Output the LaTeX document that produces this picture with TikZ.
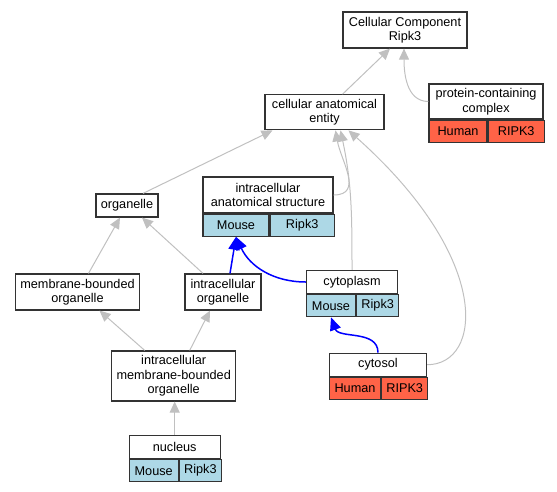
\documentclass[tikz,border=0pt]{standalone}
\usepackage{fontspec}
\setmainfont{Liberation Sans}
\usetikzlibrary{arrows.meta}
\definecolor{lightblue}{RGB}{173,216,230}
\definecolor{tomato}{RGB}{255,99,71}
\definecolor{silver}{RGB}{192,192,192}
\begin{document}
\begin{tikzpicture}[x=1pt, y=1pt,
        term/.style={draw=black!80, line width=1.2pt, fill=white, align=center, inner sep=0pt, font=\fontsize{12.7}{14.5}\selectfont},
        mouse/.style={term, fill=lightblue, minimum height=22pt, anchor=north west},
        human/.style={term, fill=tomato, minimum height=22pt, anchor=north west},
        isa/.style={draw=silver, line width=1pt, -{Triangle[length=11pt, width=10pt]}},
        annot/.style={draw=blue, line width=1.5pt, -{Triangle[length=13pt, width=11pt]}}]
        \useasboundingbox (0, 0) rectangle (557, -491);
        \node[term, minimum width=124pt, minimum height=36pt] (cc) at (405, -30) {Cellular Component\\Ripk3};
        \node[term, minimum width=114pt, minimum height=35pt] (pcc) at (486, -101.5) {protein-containing\\complex};
        \node[human, minimum width=58pt] (pccH) at (pcc.south west) {Human};
        \node[human, minimum width=56pt] (pccR) at (pccH.north east) {RIPK3};
        \node[term, minimum width=119pt, minimum height=35pt] (cae) at (324.5, -112.3) {cellular anatomical\\entity};
        \node[term, minimum width=130pt, minimum height=36pt] (ias) at (268, -195) {intracellular\\anatomical structure};
        \node[mouse, minimum width=66pt] (iasM) at (ias.south west) {Mouse};
        \node[mouse, minimum width=64pt] (iasR) at (iasM.north east) {Ripk3};
        \node[term, minimum width=62pt, minimum height=23pt] (org) at (127, -205.5) {organelle};
        \node[term, minimum width=124pt, minimum height=36pt] (mbo) at (77.5, -292) {membrane-bounded\\organelle};
        \node[term, minimum width=76pt, minimum height=36pt] (io) at (223, -292) {intracellular\\organelle};
        \node[term, minimum width=124pt, minimum height=50pt] (imbo) at (173.7, -376) {intracellular\\membrane-bounded\\organelle};
        \node[term, minimum width=91pt, minimum height=23pt] (cyt) at (352, -282) {cytoplasm};
        \node[mouse, minimum width=49pt] (cytM) at (cyt.south west) {Mouse};
        \node[mouse, minimum width=42pt] (cytR) at (cytM.north east) {Ripk3};
        \node[term, minimum width=97pt, minimum height=23pt] (cys) at (378, -364.7) {cytosol};
        \node[human, minimum width=51pt] (cysH) at (cys.south west) {Human};
        \node[human, minimum width=46pt] (cysR) at (cysH.north east) {RIPK3};
        \node[term, minimum width=91pt, minimum height=23pt] (nuc) at (174.7, -447) {nucleus};
        \node[mouse, minimum width=49pt] (nucM) at (nuc.south west) {Mouse};
        \node[mouse, minimum width=42pt] (nucR) at (nucM.north east) {Ripk3};
        \draw[isa] ([xshift=18pt]cae.north) -- ([xshift=-15pt]cc.south);
        \draw[isa] (pcc.west) to[out=180, in=-90] ([xshift=-1pt]cc.south);
        \draw[isa] ([xshift=16pt]org.north) -- ([xshift=-52pt]cae.south);
        \draw[isa] (ias.east) to[out=0, in=-80, looseness=1.2] ([xshift=11pt]cae.south);
        \draw[isa] (cyt.north) to[out=90, in=-78] ([xshift=16pt]cae.south);
        \draw[isa] (cys.east) .. controls (482, -365) and (494, -260) .. ([xshift=24pt]cae.south);
        \draw[isa] ([xshift=11pt]mbo.north) -- ([xshift=-7pt]org.south);
        \draw[isa] ([xshift=-20pt]io.north) -- ([xshift=15pt]org.south);
        \draw[isa] ([xshift=-29pt]imbo.north) -- ([xshift=22pt]mbo.south);
        \draw[isa] ([xshift=16pt]imbo.north) -- ([xshift=-13pt]io.south);
        \draw[isa] (nuc.north) -- (nuc.north |- imbo.south);
        \draw[annot] ([xshift=7pt]io.north) -- (iasM.south);
        \draw[annot] (cyt.west) to[out=180, in=-65] (iasM.south);
        \draw[annot] (cys.north) to[out=90, in=-70] (cytM.south);
\end{tikzpicture}
\end{document}
